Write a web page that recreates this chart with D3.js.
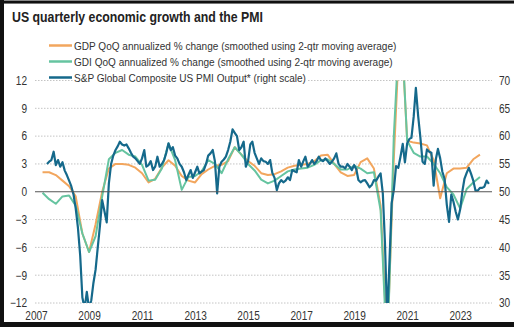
<!DOCTYPE html>
<html><head><meta charset="utf-8">
<script src="https://cdn.jsdelivr.net/npm/d3@7"></script>
<style>
body{margin:0;background:#fff;}
svg{display:block;}
text{font-family:"Liberation Sans",Arial,sans-serif;}
</style>
</head><body>
<svg id="c" width="514" height="327"></svg>
<script>
// ---------- data ----------
const titleText = "US quarterly economic growth and the PMI";
const seriesNames = [
  "GDP QoQ annualized % change (smoothed using 2-qtr moving average)",
  "GDI QoQ annualized % change (smoothed using 2-qtr moving average)",
  "S&P Global Composite US PMI Output* (right scale)"
];
const leftTicks = [-12, -9, -6, -3, 0, 3, 6, 9, 12];
const rightTicks = [30, 35, 40, 45, 50, 55, 60, 65, 70];
const yearTicks = [2007, 2009, 2011, 2013, 2015, 2017, 2019, 2021, 2023];

// quarterly series, first quarter = 2007 Q2
const quarterStart = [2007, 2];
const gdp = [
  2.1, 2.1, 1.8, 1.2, 0.6, -0.5, -4.5, -6.5, -3.5, 0.0,
  2.5, 3.0, 3.0, 2.9, 2.6, 2.0, 1.0, 1.4, 2.6, 3.4,
  2.8, 1.7, 1.2, 1.0, 1.9, 2.4, 2.8, 2.9, 3.3, 4.8,
  4.0, 3.3, 2.8, 2.0, 1.8, 1.9, 2.2, 2.6, 2.8, 2.9,
  3.0, 3.3, 3.9, 4.0, 3.0, 2.1, 1.7, 1.8, 3.2, 3.6,
  2.5, -1.5, -16.5, 3.5, 19.5, 5.5, 5.3, 5.2, 5.0, 3.4,
  -0.7, 2.0, 2.5, 2.5, 2.6, 3.5, 4.0
];
const gdi = [
  -0.1, -0.8, -1.3, -0.5, -0.4, -1.5, -4.5, -6.5, -4.8, -0.5,
  3.5, 4.2, 4.5, 4.0, 3.8, 2.9, 1.2, 1.3, 2.5, 5.2,
  3.4, 0.2, 1.6, 1.7, 2.2, 3.4, 3.0, 2.0, 3.5, 4.8,
  4.0, 3.0, 2.3, 1.3, 0.9, 1.2, 1.7, 2.2, 2.4, 2.5,
  2.6, 2.9, 3.4, 3.5, 3.0, 2.4, 2.4, 2.8, 2.5, 2.0,
  2.1, -2.0, -18.0, 6.0, 20.0, 5.5, 4.2, 3.8, 3.8, 3.0,
  2.0, 0.5, -0.3, -1.8, 0.3, 1.0, 1.6
];

// monthly PMI, first month = June 2007
const pmiStart = [2007, 6];
const pmi = [
  55.0, 55.4, 55.7, 57.2, 54.8, 55.7, 54.5,
  55.3, 53.8, 53.0, 52.0, 51.0, 49.5, 47.0, 43.5, 38.5, 31.0, 29.0, 32.0,
  29.0, 30.5, 33.5, 36.0, 40.0, 44.0, 48.5, 46.5, 44.5, 51.5, 55.0, 56.5,
  57.5, 58.2, 59.0, 58.5, 58.3, 58.5, 57.8, 57.0, 56.3, 56.0, 55.5, 55.0,
  56.0, 57.5, 54.5, 54.8, 55.5, 53.9, 54.5, 56.3, 54.5, 55.0, 55.7, 57.0,
  58.7, 57.5, 58.0, 56.5, 56.0, 55.0, 54.5, 53.5, 52.1, 53.0, 53.9, 52.5,
  53.5, 54.5, 53.3, 53.6, 53.9, 55.0, 56.5, 56.9, 57.5, 55.5, 49.7, 54.5,
  55.4, 55.8, 56.3, 57.5, 59.0, 61.2, 60.6, 60.0, 57.5, 58.0, 59.0, 54.5,
  55.5, 58.5, 59.0, 57.0, 56.0, 55.0, 56.0, 55.5, 55.4, 55.0, 55.7, 53.4,
  52.5, 50.3, 51.5, 52.1, 51.7, 52.0, 52.6, 52.1, 53.9, 53.7, 53.5, 55.7,
  54.5, 55.5, 56.3, 54.5, 55.0, 55.7, 55.0, 55.5, 56.3, 55.7, 55.5, 56.0,
  55.5, 55.0, 55.4, 56.0, 56.9, 55.0, 54.5, 54.5, 54.2, 55.0, 54.5, 53.9,
  54.8, 54.0, 52.1, 51.7, 52.0, 52.1, 51.5, 50.8, 51.2, 52.1, 52.0, 52.7,
  53.3, 49.6, 40.9, 27.0, 37.0, 47.9, 50.3, 54.6, 54.3, 56.3, 58.6, 55.3,
  58.7, 59.5, 59.7, 63.5, 68.7, 63.7, 59.9, 55.4, 55.0, 57.6, 57.2, 57.0,
  51.1, 55.9, 57.7, 56.0, 53.6, 52.3, 47.7, 44.6, 49.5, 48.2, 46.4, 45.0,
  46.8, 50.1, 52.3, 53.4, 54.3, 53.2, 52.0, 50.2, 50.2, 50.7, 50.7, 50.9,
  52.0, 51.4
];

const colors = {gdp: "#f2a65e", gdi: "#66c4a0", pmi: "#15698b"};

// ---------- chart ----------
const W = 514, H = 327;
const svg = d3.select("#c");
svg.append("rect").attr("width", W).attr("height", H).attr("fill", "#fff");

const x = d3.scaleTime().domain([new Date(2007, 0, 1), new Date(2024, 2, 15)]).range([36, 492]);
const yL = d3.scaleLinear().domain([-12, 12]).range([303, 80.5]);
const yR = d3.scaleLinear().domain([30, 70]).range([303, 80.5]);

const qDate = i => new Date(quarterStart[0], (quarterStart[1] - 1) * 3 + i * 3, 1);
const mDate = i => new Date(pmiStart[0], pmiStart[1] - 1 + i, 1);

// condense text horizontally (reference uses a narrow face)
function condense(sel, f) {
  sel.each(function () {
    const w = this.getComputedTextLength();
    d3.select(this).attr("textLength", w * f).attr("lengthAdjust", "spacingAndGlyphs");
  });
}

// grid
svg.append("g").selectAll("line").data(leftTicks.filter(d => d !== 0)).join("line")
  .attr("x1", 35).attr("x2", 492)
  .attr("y1", d => yL(d)).attr("y2", d => yL(d))
  .attr("stroke", "#c4c4c4").attr("stroke-width", 1)
  .attr("stroke-dasharray", "1.5,1.5");

// axes labels
const axL = svg.append("g").attr("transform", "translate(29,0)")
  .call(d3.axisLeft(yL).tickValues(leftTicks).tickSize(0).tickPadding(2));
const axR = svg.append("g").attr("transform", "translate(497,0)")
  .call(d3.axisRight(yR).tickValues(rightTicks).tickSize(0).tickPadding(2));
const axB = svg.append("g").attr("transform", "translate(0,311)")
  .call(d3.axisBottom(x).tickValues(yearTicks.map(y => new Date(y, 0, 1)))
    .tickFormat(d3.timeFormat("%Y")).tickSize(0).tickPadding(0));
[axL, axR, axB].forEach(a => {
  a.select(".domain").remove();
  a.selectAll("text").attr("font-size", 12).attr("fill", "#333")
    .style("font-family", '"Liberation Sans",Arial,sans-serif');
  condense(a.selectAll("text"), 0.84);
});

// clip
svg.append("clipPath").attr("id", "pc").append("rect")
  .attr("x", 30).attr("y", 80.5).attr("width", 465).attr("height", 222.5);

const plot = svg.append("g").attr("clip-path", "url(#pc)");

const lineQ = d3.line().x((d, i) => x(qDate(i))).y(d => yL(d));
const lineM = d3.line().x((d, i) => x(mDate(i))).y(d => yR(d));

plot.append("path").datum(gdp).attr("d", lineQ).attr("fill", "none")
  .attr("stroke", colors.gdp).attr("stroke-width", 2).attr("stroke-linejoin", "round");
plot.append("path").datum(gdi).attr("d", lineQ).attr("fill", "none")
  .attr("stroke", colors.gdi).attr("stroke-width", 2).attr("stroke-linejoin", "round");

// zero line
svg.append("line").attr("x1", 35).attr("x2", 492).attr("y1", yL(0)).attr("y2", yL(0))
  .attr("stroke", "#555").attr("stroke-width", 1.2);

plot.append("path").datum(pmi).attr("d", lineM).attr("fill", "none")
  .attr("stroke", colors.pmi).attr("stroke-width", 2.2).attr("stroke-linejoin", "round");

// title
const title = svg.append("text").attr("x", 12).attr("y", 22).text(titleText)
  .attr("font-size", 15).attr("font-weight", "bold").attr("fill", "#222");
title.attr("textLength", 251).attr("lengthAdjust", "spacingAndGlyphs");

// legend
const legY = [45.5, 61.5, 77.5];
const legC = [colors.gdp, colors.gdi, colors.pmi];
const leg = svg.append("g");
seriesNames.forEach((name, i) => {
  const t = leg.append("text").attr("x", 74).attr("y", legY[i]).attr("dy", "0.35em")
    .attr("font-size", 11.5).attr("fill", "#333").text(name);
  condense(t, 0.873);
  const w = +t.attr("textLength");
  leg.insert("rect", "text").attr("x", 73).attr("y", legY[i] - 6).attr("width", w + 3).attr("height", 12).attr("fill", "#fff");
  leg.append("line").attr("x1", 49).attr("x2", 72).attr("y1", legY[i]).attr("y2", legY[i])
    .attr("stroke", legC[i]).attr("stroke-width", 2.5);
});

// frame
svg.append("rect").attr("x", 0).attr("y", 0).attr("width", W).attr("height", 1).attr("fill", "#888");
svg.append("rect").attr("x", 0).attr("y", 1).attr("width", W).attr("height", 2).attr("fill", "#111");
svg.append("rect").attr("x", 0).attr("y", 3).attr("width", W).attr("height", 1).attr("fill", "#777");
svg.append("rect").attr("x", 0).attr("y", 0).attr("width", 4).attr("height", H).attr("fill", "#111");
svg.append("rect").attr("x", 0).attr("y", 322).attr("width", W).attr("height", 5).attr("fill", "#111");
</script>
</body></html>
